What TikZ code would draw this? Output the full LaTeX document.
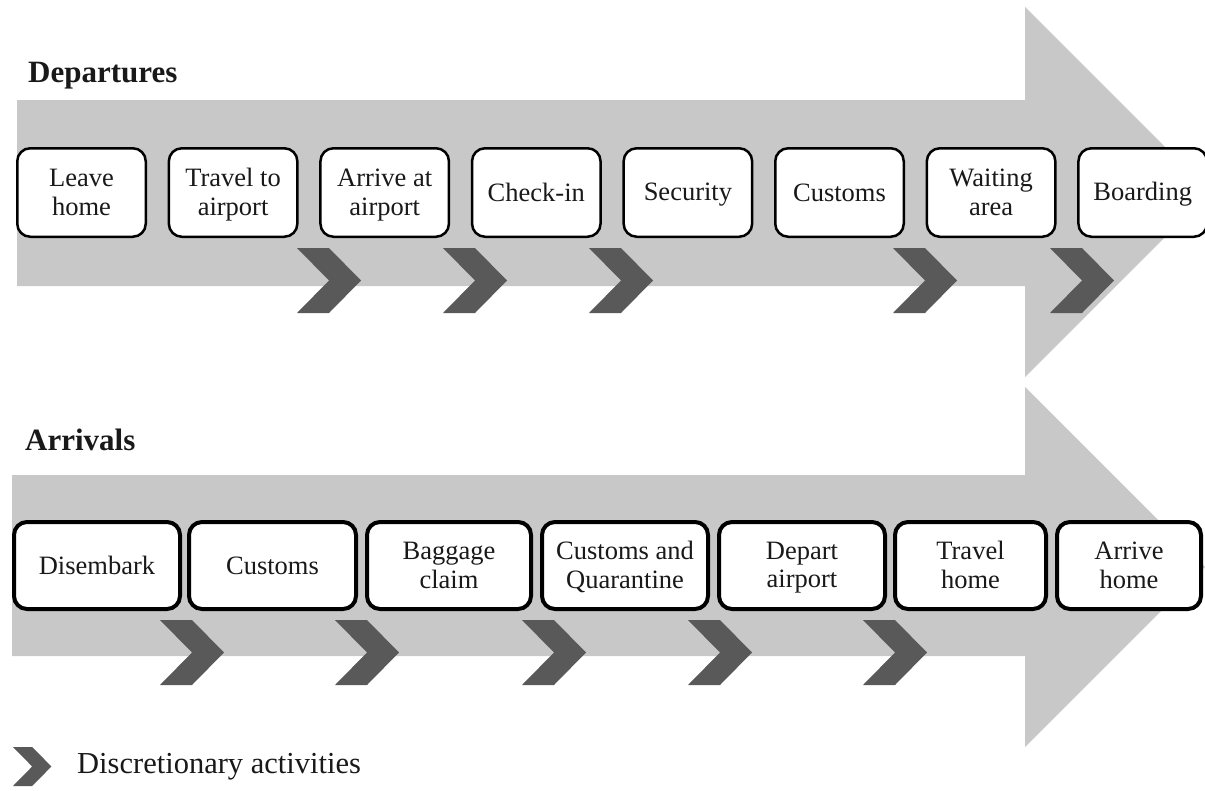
\documentclass[tikz,border=0pt]{standalone}
\usepackage{fontspec}
\setmainfont{Liberation Serif}
\usetikzlibrary{shadows}
\definecolor{arrowgray}{RGB}{200,200,200}
\definecolor{chevgray}{RGB}{89,89,89}
\definecolor{txt}{RGB}{25,25,25}
\newcommand{\bstrut}{\rule[-5pt]{0pt}{27pt}}
\tikzset{
  boxtext/.style={font=\fontsize{26.5}{29}\selectfont, text=txt, align=center, inner sep=0pt},
  dbox/.style={boxtext, draw=black, line width=2.5pt, fill=white, rounded corners=13pt,
    minimum width=128.5pt, minimum height=88.5pt},
  abox/.style={boxtext, font=\fontsize{26.5}{28.5}\selectfont, draw=black, line width=4pt, fill=white, rounded corners=13pt,
    minimum height=87pt, drop shadow={shadow xshift=1.5pt, shadow yshift=1.5pt, opacity=0.35, fill=black}},
  titletext/.style={font=\fontsize{31}{34}\selectfont\bfseries, text=txt, inner sep=0pt, anchor=base west},
  legendtext/.style={font=\fontsize{30.5}{34}\selectfont, text=txt, inner sep=0pt, anchor=base west},
  bigarrow/.style={fill=arrowgray, draw=none},
  chev/.pic={\fill[chevgray] (0,0) -- (32,0) -- (64,32.5) -- (32,65) -- (0,65) -- (32,32.5) -- cycle;}
}
\begin{document}
\begin{tikzpicture}[x=1pt,y=-1pt]
\useasboundingbox (0,0) rectangle (1205,790);
\fill[white] (0,0) rectangle (1205,790);
\clip (0,0) rectangle (1205,790);
% big gray arrows
\fill[bigarrow] (17,100) -- (1025,100) -- (1025,7) -- (1210,192) -- (1025,377) -- (1025,286) -- (17,286) -- cycle;
\fill[bigarrow] (12,475) -- (1025,475) -- (1025,387) -- (1205,567) -- (1025,747) -- (1025,656) -- (12,656) -- cycle;
% titles
\node[titletext] (tdep) at (28,82) {Departures};
\node[titletext] (tarr) at (25,450) {Arrivals};
% departure chevrons
\pic at (297,248) {chev};
\pic at (443,248) {chev};
\pic at (589,248) {chev};
\pic at (893,248) {chev};
\pic at (1050,248) {chev};
% arrival chevrons
\pic at (160,620) {chev};
\pic at (335,620) {chev};
\pic at (522,620) {chev};
\pic at (688,620) {chev};
\pic at (863,620) {chev};
% departure boxes
\node[dbox] (d1) at (81.5,192.5) {\bstrut Leave\\\bstrut home};
\node[dbox] (d2) at (233.1,192.5) {\bstrut Travel to\\\bstrut airport};
\node[dbox] (d3) at (384.7,192.5) {\bstrut Arrive at\\\bstrut airport};
\node[dbox] (d4) at (536.3,192.5) {\bstrut Check-in};
\node[dbox] (d5) at (687.9,192.5) {\bstrut Security};
\node[dbox] (d6) at (839.5,192.5) {\bstrut Customs};
\node[dbox] (d7) at (991.1,192.5) {\bstrut Waiting\\\bstrut area};
\node[dbox] (d8) at (1142.7,192.5) {\bstrut Boarding};
% arrival boxes
\node[abox, minimum width=166pt] (a1) at (97,565.5) {\bstrut Disembark};
\node[abox, minimum width=167pt] (a2) at (272.5,565.5) {\bstrut Customs};
\node[abox, minimum width=164pt] (a3) at (449,565.5) {\bstrut Baggage\\\bstrut claim};
\node[abox, minimum width=166pt] (a4) at (625,565.5) {\bstrut Customs and\\\bstrut Quarantine};
\node[abox, minimum width=166pt] (a5) at (802,565.5) {\bstrut Depart\\\bstrut airport};
\node[abox, minimum width=151pt] (a6) at (970.5,565.5) {\bstrut Travel\\\bstrut home};
\node[abox, minimum width=144pt] (a7) at (1129,565.5) {\bstrut Arrive\\\bstrut home};
% legend
\pic[scale=0.6] at (13,747) {chev};
\node[legendtext] (leg) at (77,773) {Discretionary activities};
\end{tikzpicture}
\end{document}
